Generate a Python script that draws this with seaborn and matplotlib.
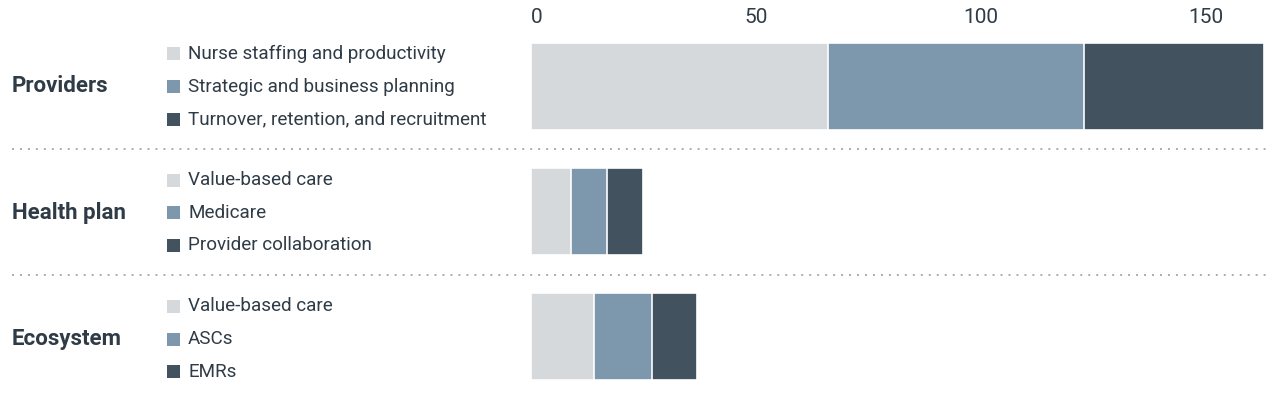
import matplotlib
matplotlib.use("Agg")
import matplotlib.pyplot as plt
import pandas as pd
import seaborn as sns
from matplotlib.patches import Rectangle

# --- data ---
groups = ["Providers", "Health plan", "Ecosystem"]
topics = [
    ["Nurse staffing and productivity", "Strategic and business planning",
     "Turnover, retention, and recruitment"],
    ["Value-based care", "Medicare", "Provider collaboration"],
    ["Value-based care", "ASCs", "EMRs"],
]
first = [66, 9, 14]
second = [57, 8, 13]
third = [40, 8, 10]
x_ticks = [0, 50, 100, 150]

colors = ["#d5d9db", "#7d98ad", "#43525f"]
text_color = "#2f3b46"

sns.set_theme(style="white")
plt.rcParams["font.family"] = ["Roboto", "DejaVu Sans"]

df = pd.DataFrame({"group": groups, "first": first, "second": second, "third": third})
df["c1"] = df["first"]
df["c2"] = df["first"] + df["second"]
df["c3"] = df["c2"] + df["third"]

W, H = 1280, 397
fig = plt.figure(figsize=(W / 100, H / 100), dpi=100)

# background axes in pixel coordinates for labels, legend keys and separators
bg = fig.add_axes([0, 0, 1, 1])
bg.set_xlim(0, W)
bg.set_ylim(H, 0)
bg.axis("off")

# bar axes (stacked by overlaying cumulative totals)
ax = fig.add_axes([531 / W, (H - 380) / H, 733 / W, 337 / H])
for col, c in zip(["c3", "c2", "c1"], colors[::-1]):
    sns.barplot(data=df, x=col, y="group", order=groups, orient="h", color=c,
                width=0.696, edgecolor="white", linewidth=1.2, saturation=1, ax=ax)

ax.set_xlim(0, 163)
ax.set_ylim(len(groups) - 1 + 0.348, -0.348)
ax.set_xticks(x_ticks)
ax.set_xticklabels([str(t) for t in x_ticks])
ax.xaxis.tick_top()
ax.tick_params(axis="x", length=0, pad=11.5, labelsize=15, labelcolor=text_color)
ax.get_xticklabels()[0].set_horizontalalignment("left")
ax.set_yticks([])
ax.set_xlabel("")
ax.set_ylabel("")
for s in ax.spines.values():
    s.set_visible(False)
ax.patch.set_alpha(0)

# left-hand labels and legend keys
for i, (g, items) in enumerate(zip(groups, topics)):
    yc = 86.5 + 126.3 * i
    bg.text(12, yc, g, ha="left", va="center", fontsize=16, fontweight="bold",
            color=text_color)
    for j, (t, c) in enumerate(zip(items, colors)):
        yr = yc + (j - 1) * 32.7
        bg.add_patch(Rectangle((167, yr - 6.5), 13, 13, color=c, lw=0))
        bg.text(188, yr, t, ha="left", va="center", fontsize=13.6, color=text_color)

# dotted separators between groups
for yl in [149, 275]:
    bg.plot([12, 1267], [yl, yl], color="#a9adb0", lw=1.4, linestyle=(0, (1, 3.1)))

fig.savefig("out.png", dpi=100)
